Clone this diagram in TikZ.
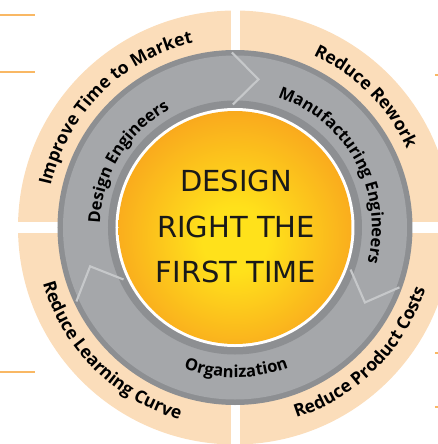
\documentclass[tikz,border=0pt]{standalone}
\usepackage{fontspec}
\usepackage{tikz}
\usetikzlibrary{decorations.text}
\newfontfamily\labelfont{Open Sans}
\newfontfamily\corefont{DejaVu Sans}
\definecolor{peach}{HTML}{FBDDBA}
\definecolor{peachmid}{HTML}{FDE9C3}
\definecolor{peachlight}{HTML}{FFF3C8}
\definecolor{ringdark}{HTML}{8D8F92}
\definecolor{ringmid}{HTML}{A5A7AA}
\definecolor{chevron}{HTML}{C6C8CA}
\definecolor{sunyellow}{HTML}{FFE11B}
\definecolor{sunorange}{HTML}{F7941E}
\definecolor{tick}{HTML}{F9B864}
\pgfdeclareradialshading{ringshade}{\pgfpoint{0bp}{0bp}}{color(0bp)=(peach); color(40.5bp)=(peach); color(41bp)=(peachmid); color(43.5bp)=(peachlight); color(50bp)=(peach)}
\pgfdeclareradialshading{sunshade}{\pgfpoint{0bp}{-3bp}}{color(0bp)=(sunyellow); color(7bp)=(sunyellow); color(34bp)=(sunorange); color(50bp)=(sunorange)}

\begin{document}
\begin{tikzpicture}[x=0.02cm, y=0.02cm,
ringlabel/.style={decorate, decoration={text along path, text align=center,
  text={|\labelfont\bfseries\fontsize{10}{12}\selectfont|#1}}},
bandlabel/.style={decorate, decoration={text along path, text align=center,
  text={|\labelfont\bfseries\fontsize{9.4}{11}\selectfont|#1}}},
chev/.style={draw=chevron, line width=1.2pt},
tickline/.style={draw=tick, line width=0.9pt}]

\useasboundingbox (-235,-216.5) rectangle (203,227.5);

% outer ring, four quarters
\shade [shading=ringshade] (0,0) circle [radius=217];
\fill [white] (-3.5,-220) rectangle (5.5,220);
\fill [white] (-220,-5.5) rectangle (220,5.5);

% grey ring
\fill [ringdark] (0,0) circle [radius=177.5];
\fill [ringmid] (0,0) circle [radius=172];
\fill [ringdark] (0,0) circle [radius=127];
\fill [white] (0,0) circle [radius=119.5];
\shade [shading=sunshade] (0,0) circle [radius=116.5];
\foreach \a in {91,-20,205}
  \draw [chev] (\a:175) -- (\a-10:150) -- (\a:123);

\node [font=\corefont\fontsize{16.5}{26}\selectfont, align=center, text=black!90] (core) at (1,1) {DESIGN\\RIGHT THE\\FIRST TIME};

\path [ringlabel={Improve Time to Market}] plot [domain=190:80, samples=221] (\x:189);
\path [ringlabel={Reduce Rework}] plot [domain=100:-10, samples=221] (\x:189);
\path [ringlabel={Reduce Learning Curve}] plot [domain=170:280, samples=221] (\x:200);
\path [ringlabel={Reduce Product Costs}] plot [domain=260:370, samples=221] (\x:200);

\path [bandlabel={Design Engineers}] plot [domain=201:96, samples=211] (\x:135);
\path [bandlabel={Manufacturing Engineers}] plot [domain=80:-23, samples=207] (\x:137);
\path [bandlabel={Organization}] plot [domain=230:311, samples=163] (\x:150);

\foreach \y in {212.5,155.5,-144.5}
  \draw [tickline] (-235,\y) -- ++(35,0);
\foreach \y in {152.5,-125.5,-179.5}
  \draw [tickline] (200,\y) -- ++(3,0);
\end{tikzpicture}
\end{document}
